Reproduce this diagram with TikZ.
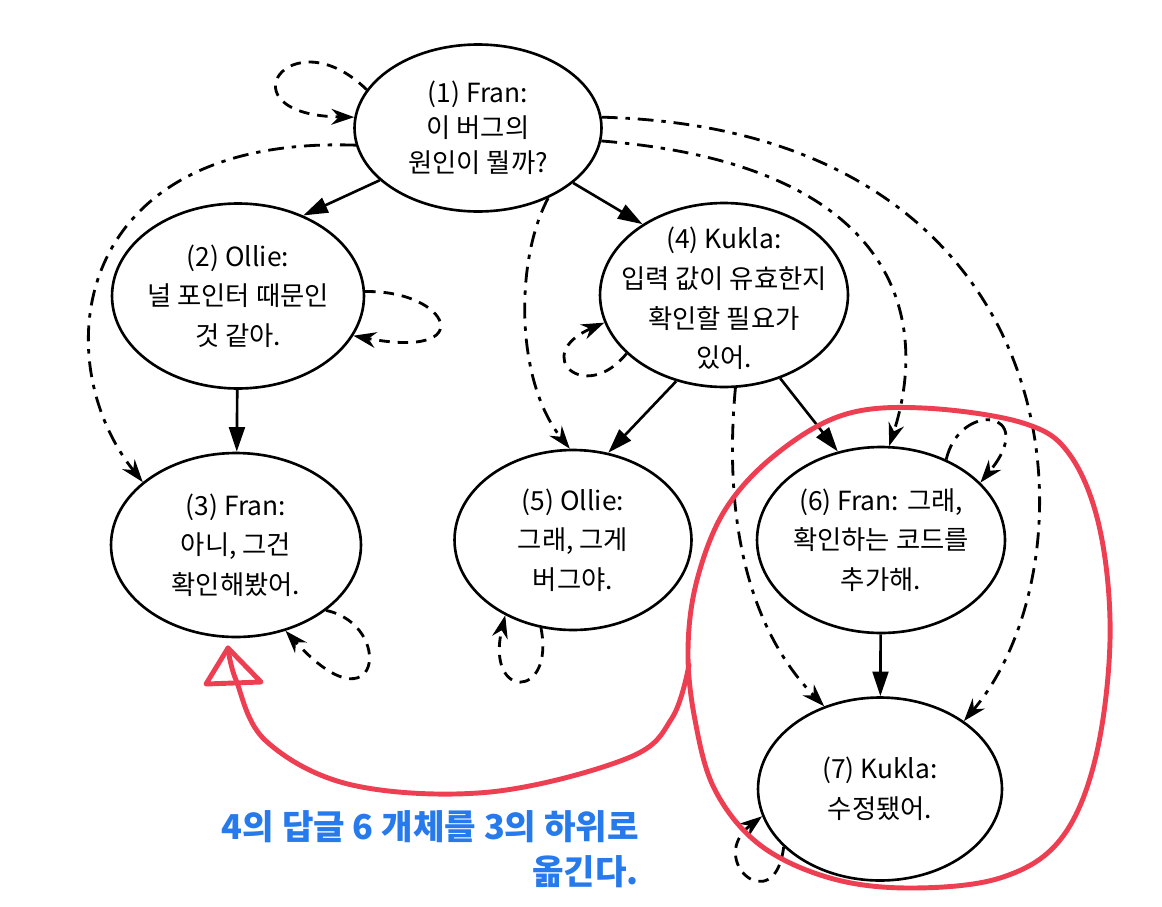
\documentclass[tikz,border=0pt]{standalone}
\usepackage{fontspec}
\setmainfont{Noto Sans CJK KR}
\usetikzlibrary{shapes.geometric,arrows.meta}
\definecolor{penred}{RGB}{238,62,82}
\definecolor{penblue}{RGB}{38,122,235}
\begin{document}
\begin{tikzpicture}[x=0.02cm, y=-0.02cm,
    state/.style={ellipse, draw, line width=1.5pt, inner sep=0pt},
    say/.style={align=center, font=\fontsize{15}{22.5}\selectfont},
    tree/.style={line width=1.5pt, -{Triangle[length=14pt,width=9pt]}},
    dashdotline/.style={dash pattern=on 9pt off 4.5pt on 2.5pt off 4.5pt},
    reply/.style={line width=1.6pt, dashdotline, -{Stealth[length=13pt,width=9pt]}},
    selfloop/.style={line width=1.6pt, dash pattern=on 6pt off 4.5pt, -{Stealth[length=13pt,width=9pt]}},
    redpen/.style={penred, line width=2.8pt, line cap=round},
    hand/.style={penblue, align=right, font=\fontsize{19.5}{25.5}\selectfont\bfseries}]
    \useasboundingbox (0,0) rectangle (1162,906);

    % 상태 (타원)
    \node[state, minimum width=4.94cm, minimum height=3.34cm] (n1) at (478,128) {};
    \node[state, minimum width=5.04cm, minimum height=3.70cm] (n2) at (238,296) {};
    \node[state, minimum width=5.00cm, minimum height=3.68cm] (n3) at (236,545) {};
    \node[state, minimum width=4.96cm, minimum height=3.68cm] (n4) at (724,295) {};
    \node[state, minimum width=4.74cm, minimum height=3.60cm] (n5) at (573,540) {};
    \node[state, minimum width=4.96cm, minimum height=3.72cm] (n6) at (881,540) {};
    \node[state, minimum width=4.88cm, minimum height=3.66cm] (n7) at (880,789) {};

    % 대화 내용
    \node[say, font=\fontsize{15}{20}\selectfont] (t1) at (n1) {(1) Fran:\\이 버그의\\원인이 뭘까?};
    \node[say] (t2) at (n2) {(2) Ollie:\\널 포인터 때문인\\것 같아.};
    \node[say] (t3) at (n3) {(3) Fran:\\아니, 그건\\확인해봤어.};
    \node[say] (t4) at (n4.center) [yshift=-2pt] {(4) Kukla:\\입력 값이 유효한지\\확인할 필요가\\있어.};
    \node[say] (t5) at (n5) {(5) Ollie:\\그래, 그게\\버그야.};
    \node[say] (t6) at (n6) {(6) Fran: 그래,\\확인하는 코드를\\추가해.};
    \node[say] (t7) at (n7) {(7) Kukla:\\수정됐어.};

    % 답글 (실선)
    \draw[tree] (n1.208) -- (n2.51);
    \draw[tree] (n1.330) -- (n4.139);
    \draw[tree] (n2) -- (n3);
    \draw[tree] (n4.241) -- (n5.68);
    \draw[tree] (n4.304) -- (n6.116);
    \draw[tree] (n6) -- (n7);

    % 참조 (점선)
    \draw[reply] (n1.188) .. controls (70,135) and (45,360) .. (n3.146);
    \draw[reply] (n1.315) .. controls (515,260) and (515,380) .. (n5.92);
    \draw[reply] (n1.354) .. controls (900,165) and (930,320) .. (n6.85);
    \draw[reply] (n1.5) .. controls (1080,130) and (1100,560) .. (n7.39);
    \draw[reply] (n4.277) .. controls (725,500) and (740,620) .. (n7.124);

    % 자기 자신
    \draw[selfloop] (n1.161) .. controls (290,15) and (220,115) .. (n1.175);
    \draw[selfloop] (n2.2) .. controls (450,290) and (480,360) .. (n2.341);
    \draw[selfloop] (n3.324) .. controls (395,625) and (380,735) .. (n3.300);
    \draw[selfloop] (n4.211) .. controls (585,405) and (530,355) .. (n4.193);
    \draw[selfloop] (n5.250) .. controls (555,700) and (485,700) .. (n5.228);
    \draw[selfloop, dashdotline] (n6.51) .. controls (960,400) and (1040,410) .. (n6.30);
    \draw[selfloop] (n7.211) .. controls (775,920) and (705,860) .. (n7.193);

    % 빨간 펜
    \draw[redpen] plot[smooth cycle, tension=0.6] coordinates {(843,415) (923,408) (1023,423) (1070,455) (1100,530) (1110,640) (1095,760) (1060,840) (1000,878) (910,888) (830,878) (760,845) (715,790) (695,720) (688,650) (697,580) (725,510) (775,455)};
    \draw[redpen] plot[smooth, tension=0.6] coordinates {(689,665) (672,718) (628,758) (490,792) (352,785) (266,741) (236,680) (228,648)};
    \draw[redpen, line join=round] (206,684) -- (228,648) -- (261,682) -- cycle;

    % 메모
    \node[hand, anchor=east] (memo) at (645,849) {4의 답글 6 개체를 3의 하위로\\옮긴다.};
\end{tikzpicture}
\end{document}
